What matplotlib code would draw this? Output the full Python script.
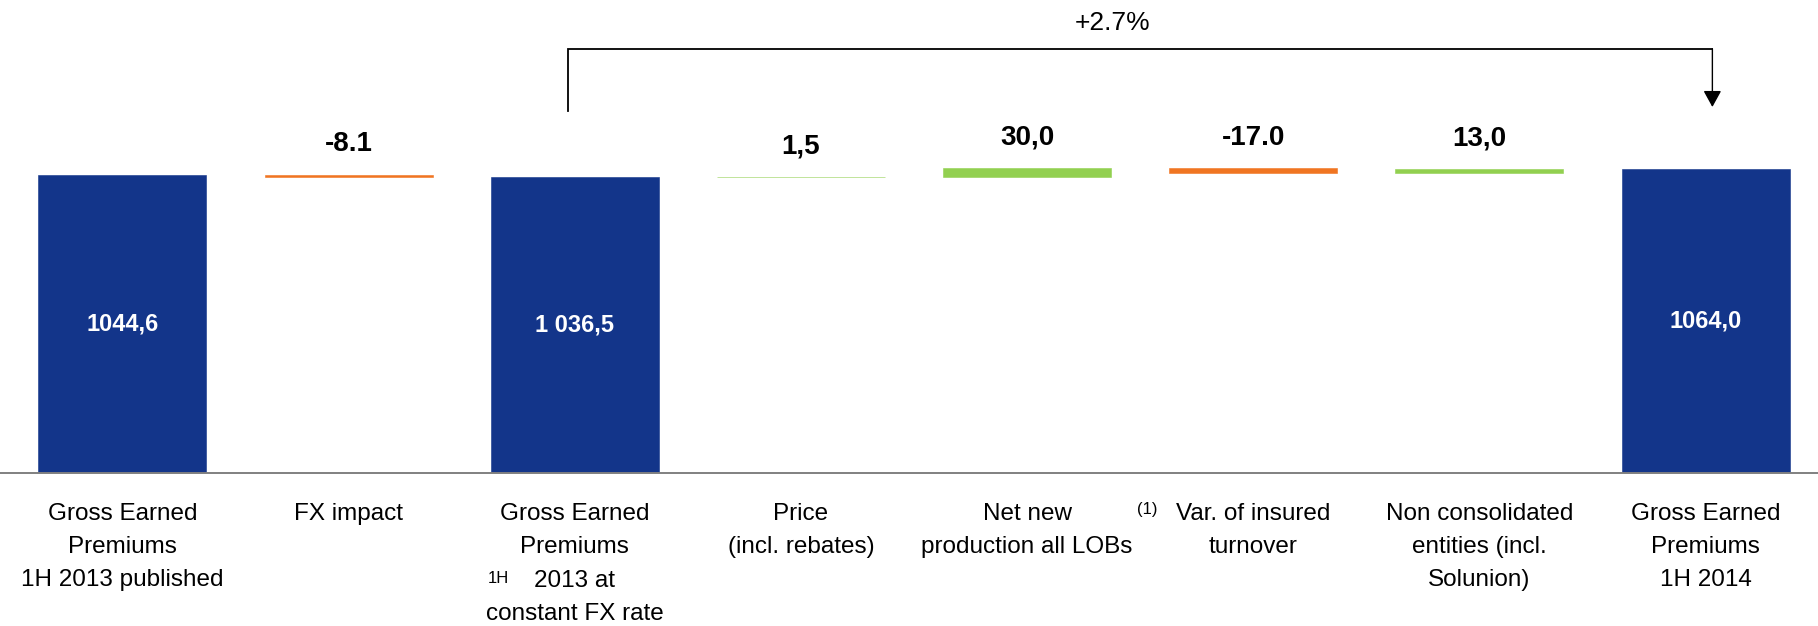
import matplotlib
matplotlib.use("Agg")
import matplotlib.pyplot as plt

# ---- data ----
CATEGORIES = [
    "Gross Earned\nPremiums\n1H 2013 published",
    "FX impact",
    "Gross Earned\nPremiums\n1H 2013 at\nconstant FX rate",
    "Price\n(incl. rebates)",
    "Net new\nproduction all LOBs",
    "Var. of insured\nturnover",
    "Non consolidated\nentities (incl.\nSolunion)",
    "Gross Earned\nPremiums\n1H 2014",
]
VALUES = [1044.6, -8.1, 1036.5, 1.5, 30.0, -17.0, 13.0, 1064.0]
KINDS = ["total", "delta", "total", "delta", "delta", "delta", "delta", "total"]
VALUE_LABELS = ["1044,6", "-8.1", "1 036,5", "1,5", "30,0", "-17.0", "13,0", "1064,0"]
GROWTH_LABEL = "+2.7%"
FOOTNOTE = "(1)"

NAVY = "#13358A"
ORANGE = "#F07522"
GREEN = "#92D050"
FONT = ["Liberation Sans", "DejaVu Sans"]

plt.rcParams["font.family"] = FONT

fig = plt.figure(figsize=(18.18, 6.26), dpi=100)
ax = fig.add_axes([0, 0.2444, 1, 0.7556])
ax.set_xlim(-0.541, 7.497)
ax.set_ylim(0, 1658)
ax.axis("off")

running = 0.0
bottoms, heights, colors = [], [], []
for v, k in zip(VALUES, KINDS):
    if k == "total":
        bottoms.append(0.0)
        heights.append(v)
        colors.append(NAVY)
        running = v
    else:
        bottoms.append(running + min(v, 0))
        heights.append(abs(v))
        colors.append(GREEN if v > 0 else ORANGE)
        running += v

x = list(range(len(VALUES)))
ax.bar(x, heights, bottom=bottoms, width=0.743, color=colors,
       edgecolor=colors, linewidth=0.4)

# baseline
ax.axhline(0, color="#808080", lw=1.4, clip_on=False)

# labels
for i, (b, h, k, lab) in enumerate(zip(bottoms, heights, KINDS, VALUE_LABELS)):
    if k == "total":
        ax.text(i, b + h / 2, lab, ha="center", va="center", color="white",
                fontsize=17, fontweight="bold")
    else:
        ax.annotate(lab, xy=(i, b + h), xytext=(0, 22), textcoords="offset points",
                    ha="center", va="center", fontsize=20, fontweight="bold", color="black")

# category labels
LS = 1.65
TOP_OFF = -21.5
LINE_PT = 24.0


def cat_text(xpos, s, off, **kw):
    ax.annotate(s, xy=(xpos, 0), xycoords=("data", "axes fraction"), xytext=(0, off),
                textcoords="offset points", ha="center", va="top", fontsize=17.5,
                linespacing=LS, annotation_clip=False, **kw)


for i, cat in enumerate(CATEGORIES):
    if i == 2:
        lines = cat.split("\n")
        cat_text(i, "\n".join(lines[:2]), TOP_OFF)
        cat_text(i, lines[2][3:], TOP_OFF - 2 * LINE_PT)
        cat_text(i, lines[3], TOP_OFF - 3 * LINE_PT)
        ax.annotate(lines[2][:2], xy=(1.663, 0), xycoords=("data", "axes fraction"),
                    xytext=(0, TOP_OFF - 2 * LINE_PT - 6.5), textcoords="offset points",
                    ha="center", va="center", fontsize=12, annotation_clip=False)
    else:
        cat_text(i, cat, TOP_OFF)

ax.annotate(FOOTNOTE, xy=(4.53, 0), xycoords=("data", "axes fraction"), xytext=(0, -26),
            textcoords="offset points", ha="center", va="center", fontsize=12,
            annotation_clip=False)

# growth bracket
y_top = 1487
ax.plot([1.97, 1.97, 7.03], [1268, y_top, y_top], color="black", lw=1.3,
        solid_joinstyle="miter")
ax.annotate("", xy=(7.03, 1283), xytext=(7.03, y_top),
            arrowprops=dict(arrowstyle="-|>,head_length=1.0,head_width=0.55",
                            color="black", lw=1.0, shrinkA=0, shrinkB=0))
ax.text(4.38, 1577, GROWTH_LABEL, ha="center", va="center", fontsize=19)

fig.savefig("out.png", dpi=100)
